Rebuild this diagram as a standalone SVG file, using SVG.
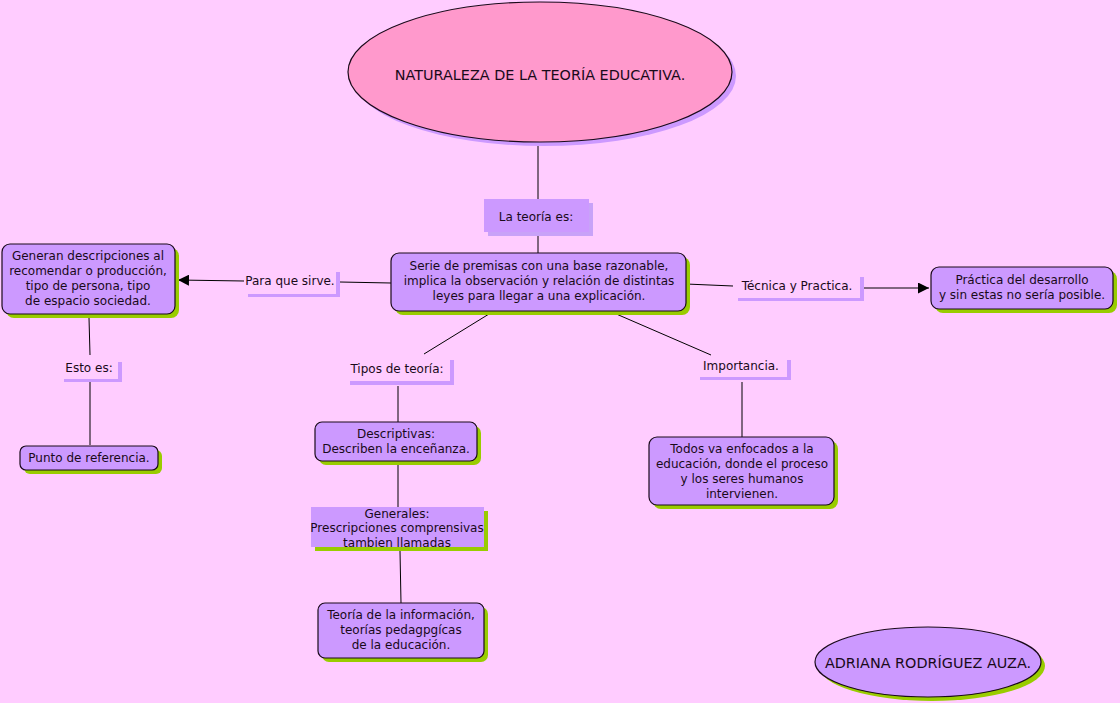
<svg xmlns="http://www.w3.org/2000/svg" width="1120" height="703" viewBox="0 0 1120 703">
<defs>
<style>
text{font-family:"DejaVu Sans",Verdana,sans-serif;font-size:12px;fill:#1a0a1a;text-anchor:middle}
.node{fill:#CC99FF;stroke:#1a0a1a;stroke-width:1.2}
.gsh{fill:#99CC00}
.lsh{fill:#CC99FF}
.conn{stroke:#000;stroke-width:1;fill:none}
.big{font-size:14.4px}
</style>
<marker id="arr" viewBox="0 0 10 10" refX="10" refY="5" markerWidth="11" markerHeight="11" markerUnits="userSpaceOnUse" orient="auto">
<path d="M0,0 L10,5 L0,10 z" fill="#000"/>
</marker>
</defs>
<rect width="1120" height="703" fill="#FFCCFF"/>

<g id="connectors">
<line class="conn" x1="538" y1="146" x2="538" y2="199"/>
<line class="conn" x1="538" y1="236" x2="538" y2="253"/>
<line class="conn" x1="391" y1="283" x2="340" y2="282"/>
<line class="conn" x1="244" y1="281" x2="178" y2="280" marker-end="url(#arr)"/>
<line class="conn" x1="89" y1="318" x2="90" y2="355"/>
<line class="conn" x1="90" y1="382" x2="90" y2="445"/>
<line class="conn" x1="489" y1="314" x2="424" y2="354"/>
<line class="conn" x1="398" y1="386" x2="398" y2="422"/>
<line class="conn" x1="398" y1="463" x2="398" y2="507"/>
<line class="conn" x1="400" y1="551" x2="401" y2="603"/>
<line class="conn" x1="614" y1="313" x2="711" y2="355"/>
<line class="conn" x1="742" y1="382" x2="742" y2="437"/>
<line class="conn" x1="686" y1="284" x2="733" y2="286"/>
<line class="conn" x1="864" y1="288" x2="929" y2="288" marker-end="url(#arr)"/>
</g>

<g id="title">
<ellipse cx="544" cy="76" rx="192" ry="70" fill="#CC99FF"/>
<ellipse cx="540" cy="72" rx="192" ry="70" fill="#FF99CC" stroke="#1a0a1a" stroke-width="1.2"/>
<text x="540" y="80" class="big">NATURALEZA DE LA TEORÍA EDUCATIVA.</text>
</g>

<g id="label-teoria">
<rect x="488" y="203" width="105" height="33" fill="#C8A2F8"/>
<rect x="484" y="199" width="105" height="33" fill="#CC99FF"/>
<text x="536" y="221">La teoría es:</text>
</g>

<g id="central">
<rect x="395" y="257" width="295" height="58" rx="8" class="gsh"/>
<rect x="391" y="253" width="295" height="58" rx="8" class="node"/>
<text x="539" y="270">Serie de premisas con una base razonable,</text>
<text x="539" y="285">implica la observación y relación de distintas</text>
<text x="539" y="300">leyes para llegar a una explicación.</text>
</g>

<g id="label-para">
<rect x="336" y="272" width="4" height="25" class="lsh"/>
<rect x="248" y="294" width="92" height="3" class="lsh"/>
<text x="290" y="285">Para que sirve.</text>
</g>

<g id="generan">
<rect x="6" y="248" width="173" height="70" rx="8" class="gsh"/>
<rect x="2" y="244" width="173" height="70" rx="8" class="node"/>
<text x="88" y="260">Generan descripciones al</text>
<text x="88" y="275">recomendar o producción,</text>
<text x="88" y="290">tipo de persona, tipo</text>
<text x="88" y="305">de espacio sociedad.</text>
</g>

<g id="label-esto">
<rect x="118" y="362" width="4" height="20" class="lsh"/>
<rect x="64" y="379" width="58" height="3" class="lsh"/>
<text x="89" y="372">Esto es:</text>
</g>

<g id="punto">
<rect x="24" y="450" width="138" height="24" rx="6" class="gsh"/>
<rect x="20" y="446" width="138" height="24" rx="6" class="node"/>
<text x="89" y="462">Punto de referencia.</text>
</g>

<g id="label-tipos">
<rect x="450" y="360" width="4" height="25" class="lsh"/>
<rect x="350" y="381" width="104" height="4" class="lsh"/>
<text x="397" y="373">Tipos de teoría:</text>
</g>

<g id="descriptivas">
<rect x="319" y="426" width="162" height="39" rx="7" class="gsh"/>
<rect x="315" y="422" width="162" height="39" rx="7" class="node"/>
<text x="396" y="438">Descriptivas:</text>
<text x="396" y="453">Describen la enceñanza.</text>
</g>

<g id="generales">
<rect x="315" y="511" width="173" height="40" class="gsh"/>
<rect x="311" y="507" width="173" height="40" fill="#CC99FF"/>
<text x="397" y="518">Generales:</text>
<text x="397" y="532">Prescripciones comprensivas</text>
<text x="397" y="547">tambien llamadas</text>
</g>

<g id="informacion">
<rect x="322" y="607" width="166" height="55" rx="7" class="gsh"/>
<rect x="318" y="603" width="166" height="55" rx="7" class="node"/>
<text x="401" y="619">Teoría de la información,</text>
<text x="401" y="634">teorías pedagpgícas</text>
<text x="401" y="649">de la educación.</text>
</g>

<g id="label-importancia">
<rect x="787" y="360" width="4" height="20" class="lsh"/>
<rect x="700" y="377" width="91" height="3" class="lsh"/>
<text x="741" y="370">Importancia.</text>
</g>

<g id="todos">
<rect x="653" y="441" width="185" height="68" rx="8" class="gsh"/>
<rect x="649" y="437" width="185" height="68" rx="8" class="node"/>
<text x="742" y="453">Todos va enfocados a la</text>
<text x="742" y="468">educación, donde el proceso</text>
<text x="742" y="483">y los seres humanos</text>
<text x="742" y="498">intervienen.</text>
</g>

<g id="label-tecnica">
<rect x="860" y="277" width="4" height="24" class="lsh"/>
<rect x="738" y="298" width="126" height="3" class="lsh"/>
<text x="797" y="290">Técnica y Practica.</text>
</g>

<g id="practica">
<rect x="935" y="271" width="182" height="42" rx="8" class="gsh"/>
<rect x="931" y="267" width="182" height="42" rx="8" class="node"/>
<text x="1022" y="284">Práctica del desarrollo</text>
<text x="1022" y="299">y sin estas no sería posible.</text>
</g>

<g id="autor">
<ellipse cx="932" cy="666" rx="113" ry="35" class="gsh"/>
<ellipse cx="928" cy="662" rx="113" ry="35" class="node"/>
<text x="928" y="668" class="big">ADRIANA RODRÍGUEZ AUZA.</text>
</g>
</svg>
